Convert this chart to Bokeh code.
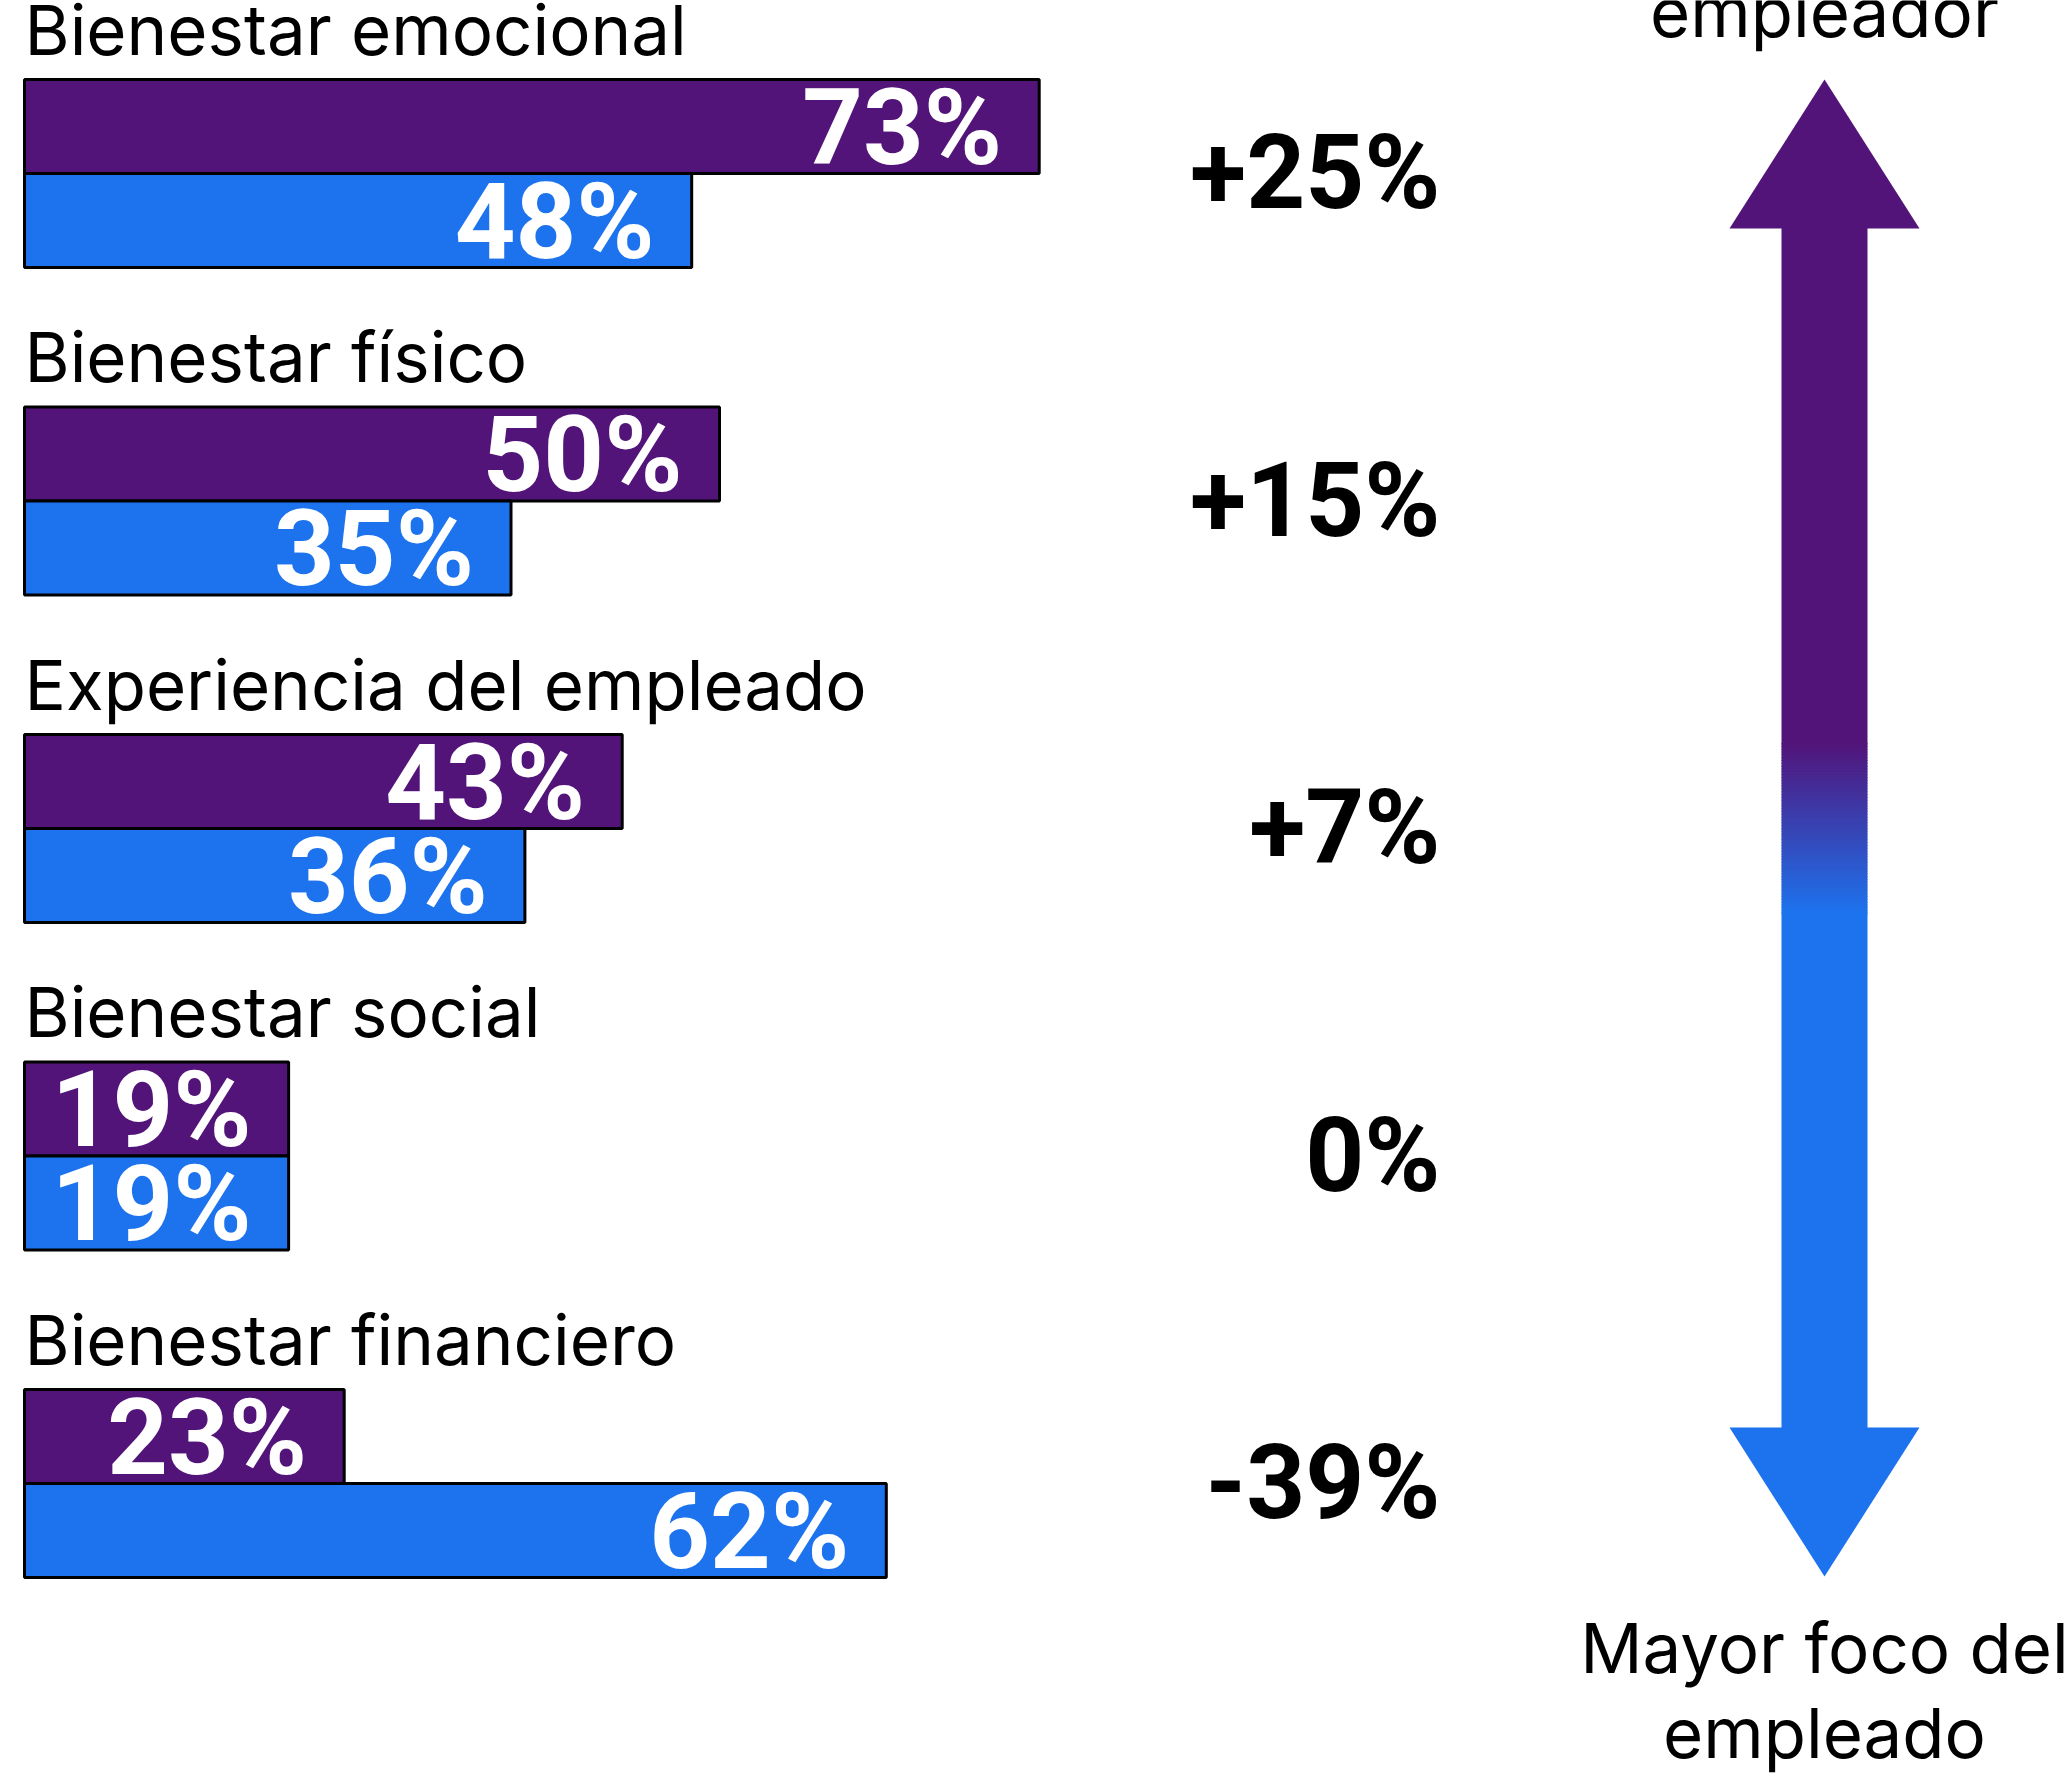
from bokeh.plotting import figure
from bokeh.models import Range1d, ColumnDataSource
from bokeh.core.properties import value
from bokeh.embed import file_html
from bokeh.resources import INLINE

# ---------------- data ----------------
categories = ["Bienestar emocional", "Bienestar físico", "Experiencia del empleado",
              "Bienestar social", "Bienestar financiero"]
employer = [73, 50, 43, 19, 23]      # purple bars
employee = [48, 35, 36, 19, 62]      # blue bars
diff_labels = ["+25%", "+15%", "+7%", "0%", "-39%"]
top_label = ["Mayor foco del", "empleador"]
bottom_label = ["Mayor foco del", "empleado"]

PURPLE = "#521479"
BLUE = "#1D73EE"
FONT = "Inter"
NUM_FONT = "Roboto"

# ---------------- layout (screen pixels) ----------------
W, H = 2068, 1779
X0 = 24            # screen x of 0 %
PX_PER_PCT = 13.9
MID0 = 173         # boundary between the two bars of the first group
STEP = 327.5
BAR_H = 94
BASE_FIX = 22      # alphabetic baseline correction

p = figure(width=W, height=H, output_backend="svg", toolbar_location=None,
           x_range=Range1d(0, W), y_range=Range1d(H, 0),
           x_axis_type=None, y_axis_type=None, min_border=0,
           outline_line_color=None, background_fill_color="white")
p.grid.visible = False
p.extra_x_ranges = {"pct": Range1d(-X0 / PX_PER_PCT, (W - X0) / PX_PER_PCT)}

mids = [MID0 + i * STEP for i in range(len(categories))]
src = ColumnDataSource(dict(
    cat=categories, emp=employer, ee=employee,
    emp_lbl=[f"{v}%" for v in employer], ee_lbl=[f"{v}%" for v in employee],
    y_emp=[m - BAR_H / 2 for m in mids], y_ee=[m + BAR_H / 2 for m in mids],
    y_cat=[m - BAR_H - 28 - BASE_FIX for m in mids], mid=mids, diff=diff_labels,
    zero=[0] * len(categories), xdiff=[1440] * len(categories),
))

p.hbar(y="y_emp", left="zero", right="emp", height=BAR_H, source=src, x_range_name="pct",
       fill_color=PURPLE, line_color="black", line_width=3)
p.hbar(y="y_ee", left="zero", right="ee", height=BAR_H, source=src, x_range_name="pct",
       fill_color=BLUE, line_color="black", line_width=3)

p.text(x="emp", y="y_emp", text="emp_lbl", source=src, x_range_name="pct", x_offset=-37, y_offset=1,
       text_align="right", text_baseline="middle", text_color="white",
       text_font=value(NUM_FONT), text_font_style="bold", text_font_size="106px")
p.text(x="ee", y="y_ee", text="ee_lbl", source=src, x_range_name="pct", x_offset=-37, y_offset=1,
       text_align="right", text_baseline="middle", text_color="white",
       text_font=value(NUM_FONT), text_font_style="bold", text_font_size="106px")

p.text(x="zero", y="y_cat", text="cat", source=src, x_range_name="pct",
       text_align="left", text_baseline="alphabetic", text_color="black",
       text_font=value(FONT), text_font_size="69px")

p.text(x="xdiff", y="mid", text="diff", source=src, y_offset=-1,
       text_align="right", text_baseline="middle", text_color="black",
       text_font=value(NUM_FONT), text_font_style="bold", text_font_size="103px")

# ---------------- double arrow with gradient ----------------
AX = 1824
HEAD_HALF = 95
SHAFT_HALF = 43
TIP_TOP, HEAD_TOP_BASE = 79, 228
HEAD_BOT_BASE, TIP_BOT = 1427, 1576
G0, G1 = 743, 913

def hexc(c):
    return tuple(int(c[i:i + 2], 16) for i in (1, 3, 5))

pc, bc = hexc(PURPLE), hexc(BLUE)
p.patch([AX, AX - HEAD_HALF, AX + HEAD_HALF], [TIP_TOP, HEAD_TOP_BASE, HEAD_TOP_BASE],
        fill_color=PURPLE, line_color=None)
p.patch([AX - HEAD_HALF, AX + HEAD_HALF, AX], [HEAD_BOT_BASE, HEAD_BOT_BASE, TIP_BOT],
        fill_color=BLUE, line_color=None)
p.quad(left=[AX - SHAFT_HALF], right=[AX + SHAFT_HALF], top=[HEAD_TOP_BASE - 1], bottom=[G0 + 1],
       fill_color=PURPLE, line_color=None)
p.quad(left=[AX - SHAFT_HALF], right=[AX + SHAFT_HALF], top=[G1 - 1], bottom=[HEAD_BOT_BASE + 1],
       fill_color=BLUE, line_color=None)
n = 60
tops, bots, cols = [], [], []
for k in range(n):
    t0 = G0 + (G1 - G0) * k / n
    t1 = G0 + (G1 - G0) * (k + 1) / n
    f = (k + 0.5) / n
    c = tuple(round(pc[j] + (bc[j] - pc[j]) * f) for j in range(3))
    tops.append(t0 - 0.5)
    bots.append(t1 + 0.5)
    cols.append("#%02x%02x%02x" % c)
p.quad(left=[AX - SHAFT_HALF] * n, right=[AX + SHAFT_HALF] * n, top=tops, bottom=bots,
       fill_color=cols, line_color=None)

# ---------------- arrow end labels ----------------
p.text(x=[AX, AX], y=[-52 - BASE_FIX, 33 - BASE_FIX], text=top_label, text_align="center",
       text_baseline="alphabetic", text_color="black", text_font=value(FONT), text_font_size="69px")
p.text(x=[AX, AX], y=[1669 - BASE_FIX, 1754 - BASE_FIX], text=bottom_label, text_align="center",
       text_baseline="alphabetic", text_color="black", text_font=value(FONT), text_font_size="69px")

open("out.html", "w").write(file_html(p, INLINE))
